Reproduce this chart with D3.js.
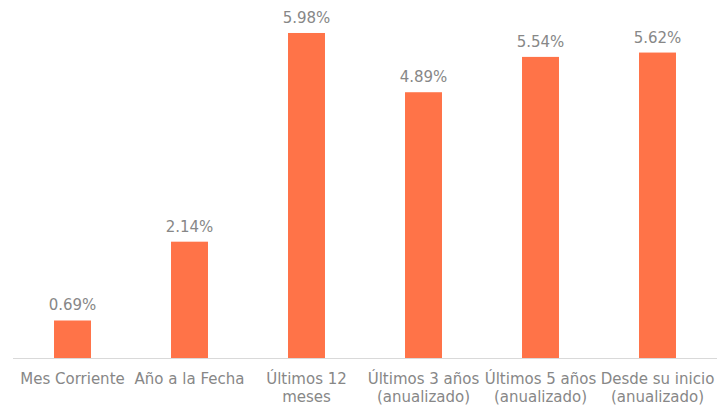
<!DOCTYPE html>
<html><head><meta charset="utf-8">
<script src="https://cdn.jsdelivr.net/npm/d3@7"></script>
<style>body{margin:0;background:#fff}svg{display:block}</style>
</head><body><svg id="c" width="728" height="405"></svg>
<script>
const categories = [["Mes Corriente"],["Año a la Fecha"],["Últimos 12","meses"],["Últimos 3 años","(anualizado)"],["Últimos 5 años","(anualizado)"],["Desde su inicio","(anualizado)"]];
const values = [0.69, 2.14, 5.98, 4.89, 5.54, 5.62];
const valueLabels = ["0.69%","2.14%","5.98%","4.89%","5.54%","5.62%"];

const svg = d3.select("#c");
const x = d3.scaleBand().domain(d3.range(values.length)).range([14, 716]).paddingInner(0.684).paddingOuter(0.342);
const y = d3.scaleLinear().domain([0, 6]).range([358, 358 - 6*54.35]);

svg.append("line").attr("x1",13).attr("x2",717).attr("y1",358.5).attr("y2",358.5)
  .attr("stroke","#d9d9d9").attr("stroke-width",1);

svg.selectAll("rect.bar").data(values).join("rect").attr("class","bar")
  .attr("x",(d,i)=>x(i)).attr("width",x.bandwidth())
  .attr("y",d=>y(d)).attr("height",d=>y(0)-y(d)).attr("fill","#FF7348");

svg.selectAll("text.val").data(values).join("text").attr("class","val")
  .attr("x",(d,i)=>x(i)+x.bandwidth()/2).attr("y",d=>y(d)-10)
  .attr("text-anchor","middle").attr("font-family","DejaVu Sans").attr("font-size",15)
  .attr("fill","#878787").text((d,i)=>valueLabels[i]);

const cat = svg.selectAll("text.cat").data(categories).join("text").attr("class","cat")
  .attr("text-anchor","middle").attr("font-family","DejaVu Sans").attr("font-size",15).attr("fill","#878787");
cat.each(function(lines,i){
  const t=d3.select(this);
  lines.forEach((l,j)=>t.append("tspan").attr("x",x(i)+x.bandwidth()/2).attr("y",384+j*18).text(l));
});
</script></body></html>
